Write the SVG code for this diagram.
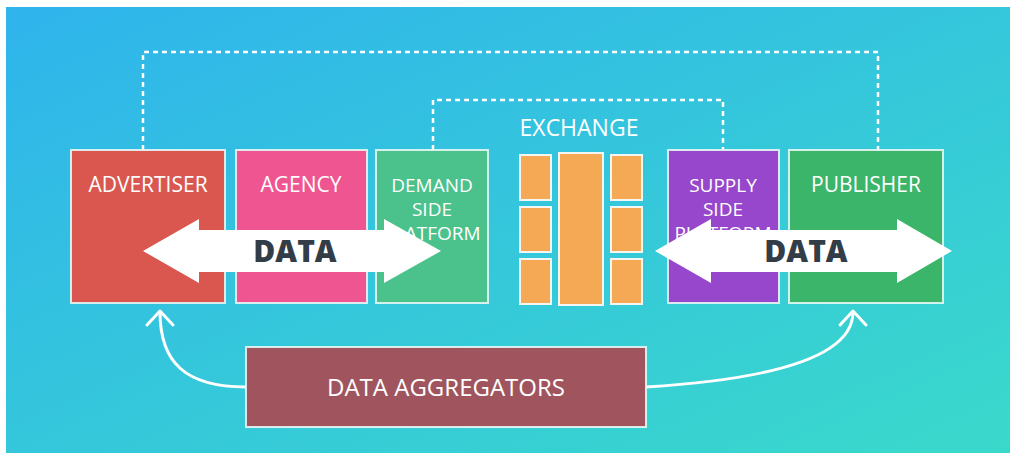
<svg xmlns="http://www.w3.org/2000/svg" width="1020" height="460" viewBox="0 0 1020 460">
<defs>
<linearGradient id="bg" x1="0" y1="0" x2="1" y2="1">
<stop offset="0" stop-color="#2fb4ec"/>
<stop offset="1" stop-color="#3ad9cb"/>
</linearGradient>
<style>
.box{stroke:#e6f6f4;stroke-width:2;stroke-opacity:0.9}
.lbl{font-family:"Open Sans","Liberation Sans",sans-serif;font-weight:500;fill:#ffffff;text-anchor:middle}
.big{font-size:21px}
.sm{font-size:19px}
.ex{fill:#f5a955;stroke:#f3f6f2;stroke-width:2}
.dash{fill:none;stroke:#ffffff;stroke-width:2.5;stroke-dasharray:5 4}
.curve{fill:none;stroke:#ffffff;stroke-width:3;stroke-linecap:round;stroke-linejoin:round}
.arrow{fill:#ffffff}
.data{font-family:"Open Sans","Liberation Sans",sans-serif;font-weight:800;font-size:30px;fill:#333d48;text-anchor:middle}
</style>
</defs>
<rect width="1020" height="460" fill="#ffffff"/>
<rect x="6" y="7" width="1004" height="446" fill="url(#bg)"/>

<g id="connectors">
<path class="dash" d="M143,150 V52 H878 V150"/>
<path class="dash" d="M433,150 V100 H723 V150"/>
<path class="curve" d="M246,387 C185,387 160,362 160,312"/>
<path class="curve" d="M147,325 L160,311 L173,325"/>
<path class="curve" d="M646,387 C760,380 853,360 853,312"/>
<path class="curve" d="M840,325 L853,311 L866,325"/>
</g>

<g id="advertiser">
<rect class="box" x="71" y="150" width="154" height="153" fill="#d9574f"/>
<text class="lbl big" x="148" y="192">ADVERTISER</text>
</g>
<g id="agency">
<rect class="box" x="236" y="150" width="131" height="153" fill="#ef5590"/>
<text class="lbl big" x="301" y="192">AGENCY</text>
</g>
<g id="dsp">
<rect class="box" x="376" y="150" width="112" height="153" fill="#4bc18c"/>
<text class="lbl sm" x="432" y="192">DEMAND</text>
<text class="lbl sm" x="432" y="216">SIDE</text>
<text class="lbl sm" x="432" y="240">PLATFORM</text>
</g>
<g id="exchange">
<text class="lbl" x="579" y="136" font-size="23">EXCHANGE</text>
<rect class="ex" x="520" y="155" width="31" height="45"/>
<rect class="ex" x="520" y="207" width="31" height="45"/>
<rect class="ex" x="520" y="259" width="31" height="45"/>
<rect class="ex" x="559" y="153" width="44" height="152"/>
<rect class="ex" x="611" y="155" width="31" height="45"/>
<rect class="ex" x="611" y="207" width="31" height="45"/>
<rect class="ex" x="611" y="259" width="31" height="45"/>
</g>
<g id="ssp">
<rect class="box" x="668" y="150" width="111" height="153" fill="#9747cb"/>
<text class="lbl sm" x="723" y="192">SUPPLY</text>
<text class="lbl sm" x="723" y="216">SIDE</text>
<text class="lbl sm" x="723" y="240">PLATFORM</text>
</g>
<g id="publisher">
<rect class="box" x="789" y="150" width="154" height="153" fill="#3bb56a"/>
<text class="lbl big" x="866" y="192">PUBLISHER</text>
</g>

<g id="data-left">
<polygon class="arrow" points="143,251 199,219 199,230 384,230 384,219 441,251 384,283 384,272 199,272 199,283"/>
<text class="data" x="295" y="262">DATA</text>
</g>
<g id="data-right">
<polygon class="arrow" points="655,251 711,219 711,230 897,230 897,219 952,251 897,283 897,272 711,272 711,283"/>
<text class="data" x="806" y="262">DATA</text>
</g>

<g id="aggregators">
<rect class="box" x="246" y="347" width="400" height="80" fill="#a0555e"/>
<text class="lbl" x="446" y="396" font-size="24" textLength="238" lengthAdjust="spacingAndGlyphs">DATA AGGREGATORS</text>
</g>
</svg>
